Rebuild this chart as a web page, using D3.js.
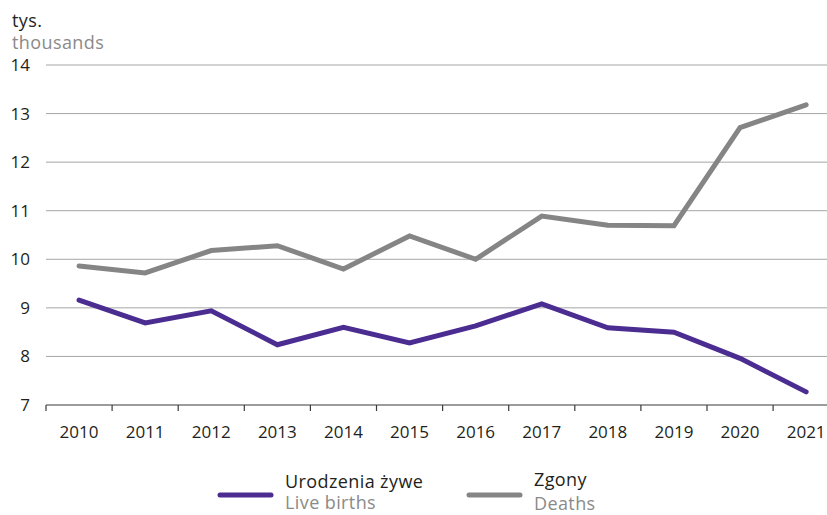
<!DOCTYPE html>
<html>
<head>
<meta charset="utf-8">
<script src="https://cdn.jsdelivr.net/npm/d3@7"></script>
<style>
  html, body { margin: 0; padding: 0; background: #fff; }
  svg { display: block; font-family: "Open Sans", "Lato", sans-serif; }
</style>
</head>
<body>
<svg id="chart" width="827" height="515"></svg>
<script>
// Years on the horizontal axis
const years = ["2010","2011","2012","2013","2014","2015","2016","2017","2018","2019","2020","2021"];
// Live births, thousands
const births = [9.16, 8.69, 8.94, 8.24, 8.60, 8.28, 8.63, 9.08, 8.59, 8.50, 7.96, 7.27];
// Deaths, thousands
const deaths = [9.86, 9.72, 10.18, 10.28, 9.80, 10.48, 10.00, 10.89, 10.70, 10.69, 12.71, 13.18];
// Vertical axis ticks
const yTicks = [7, 8, 9, 10, 11, 12, 13, 14];

const svg = d3.select("#chart");
const W = 827;
const left = 46, bandW = 66.1;

const x = d3.scaleBand().domain(years).range([left, left + bandW * years.length]);
const y = d3.scaleLinear().domain([7, 14]).range([405, 65]);

// Horizontal grid lines
svg.append("g").selectAll("line")
  .data(yTicks.filter(d => d > 7))
  .join("line")
  .attr("x1", left).attr("x2", W)
  .attr("y1", d => y(d)).attr("y2", d => y(d))
  .attr("stroke", "#a6a6a6").attr("stroke-width", 1);

// Y tick labels
svg.append("g").selectAll("text")
  .data(yTicks)
  .join("text")
  .attr("x", 30).attr("y", d => y(d) + 6)
  .attr("text-anchor", "end")
  .attr("font-size", 17)
  .attr("fill", "#231f20")
  .text(d => d);

// Unit label
svg.append("text").attr("x", 12).attr("y", 27).attr("font-size", 18).attr("letter-spacing", 0.4)
  .attr("fill", "#231f20").text("tys.");
svg.append("text").attr("x", 12).attr("y", 49).attr("font-size", 18).attr("letter-spacing", 0.4)
  .attr("fill", "#8a8a8a").text("thousands");

// X axis with ticks on band boundaries
const axisY = y(7);
svg.append("line")
  .attr("x1", left).attr("x2", W)
  .attr("y1", axisY).attr("y2", axisY)
  .attr("stroke", "#3a3a3a").attr("stroke-width", 1.2);
const bounds = years.map(d => x(d));
svg.append("g").selectAll("line")
  .data(bounds)
  .join("line")
  .attr("x1", d => d).attr("x2", d => d)
  .attr("y1", axisY).attr("y2", axisY + 6)
  .attr("stroke", "#3a3a3a").attr("stroke-width", 1.2);
svg.append("g").selectAll("text")
  .data(years)
  .join("text")
  .attr("x", d => x(d) + x.bandwidth() / 2)
  .attr("y", axisY + 33)
  .attr("text-anchor", "middle")
  .attr("font-size", 17)
  .attr("fill", "#231f20")
  .text(d => d);

// Series lines
const line = d3.line()
  .x((d, i) => x(years[i]) + x.bandwidth() / 2)
  .y(d => y(d));

svg.append("path").datum(deaths)
  .attr("d", line).attr("fill", "none")
  .attr("stroke", "#858585").attr("stroke-width", 5)
  .attr("stroke-linejoin", "miter").attr("stroke-linecap", "round");

svg.append("path").datum(births)
  .attr("d", line).attr("fill", "none")
  .attr("stroke", "#4b2c91").attr("stroke-width", 5)
  .attr("stroke-linejoin", "miter").attr("stroke-linecap", "round");

// Legend
const legend = [
  { color: "#4b2c91", pl: "Urodzenia żywe", en: "Live births", x: 218, ty: 488, ey: 509 },
  { color: "#858585", pl: "Zgony", en: "Deaths", x: 467, ty: 486, ey: 510 }
];
const lg = svg.append("g").selectAll("g").data(legend).join("g");
lg.append("line")
  .attr("x1", d => d.x + 2).attr("x2", d => d.x + 53)
  .attr("y1", 495).attr("y2", 495)
  .attr("stroke", d => d.color).attr("stroke-width", 5)
  .attr("stroke-linecap", "round");
lg.append("text")
  .attr("x", d => d.x + 67).attr("y", d => d.ty)
  .attr("font-size", 18).attr("letter-spacing", 0.4)
  .attr("fill", "#231f20")
  .text(d => d.pl);
lg.append("text")
  .attr("x", d => d.x + 67).attr("y", d => d.ey)
  .attr("font-size", 18).attr("letter-spacing", 0.4)
  .attr("fill", "#8a8a8a")
  .text(d => d.en);
</script>
</body>
</html>
